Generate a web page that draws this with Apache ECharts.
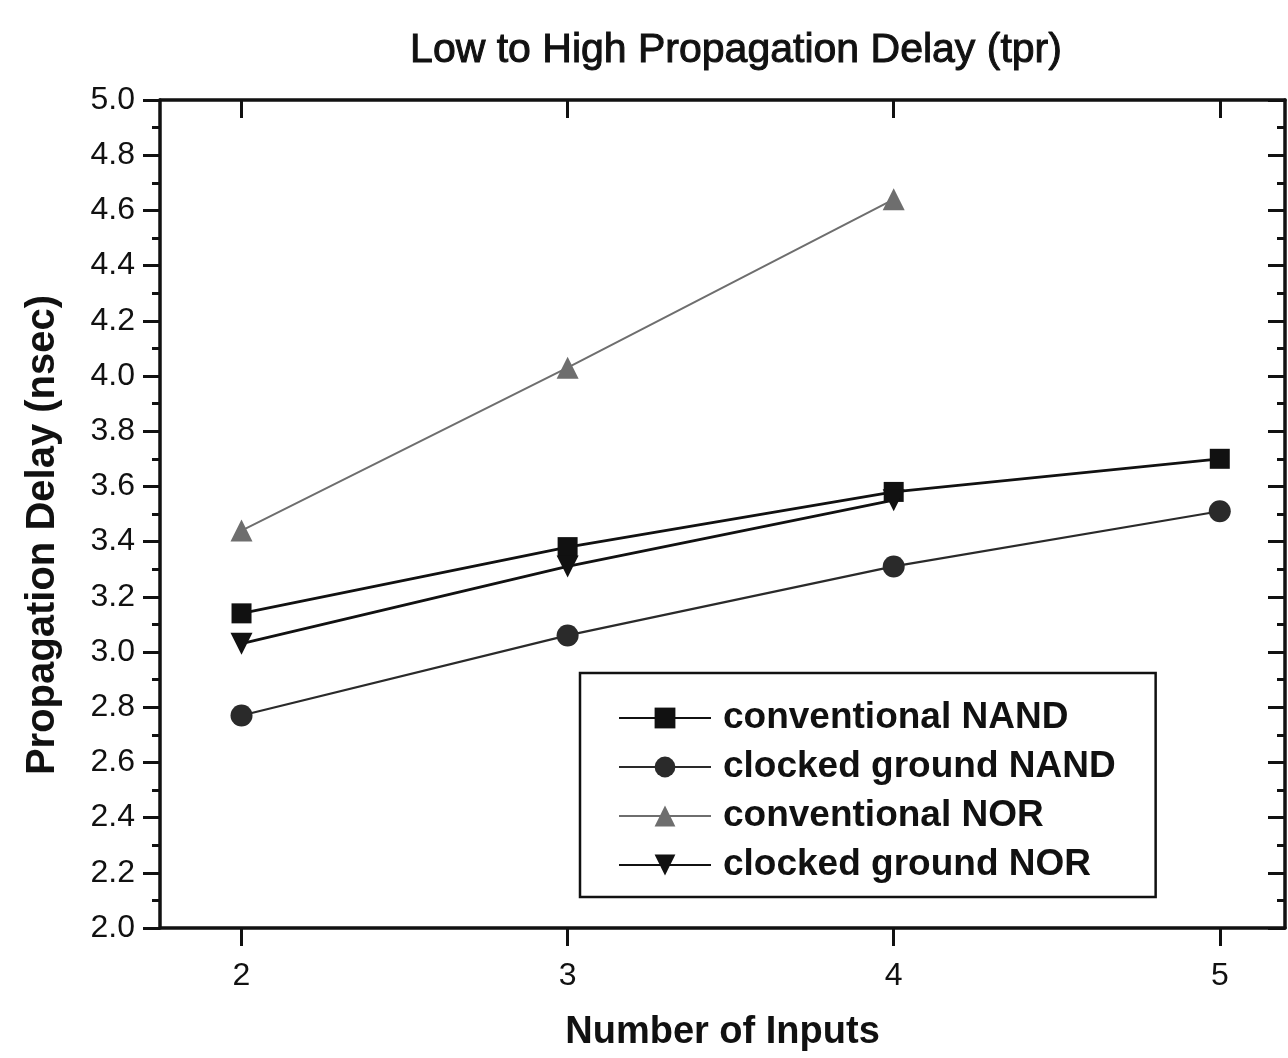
<!DOCTYPE html>
<html>
<head>
<meta charset="utf-8">
<script src="https://cdn.jsdelivr.net/npm/echarts@6/dist/echarts.min.js"></script>
<style>html,body{margin:0;padding:0;background:#fff}#c{width:1288px;height:1058px}</style>
</head>
<body>
<div id="c"></div>
<script>
var inputs = [2, 3, 4, 5];
var convNAND = [3.14, 3.38, 3.58, 3.70];
var clkNAND = [2.77, 3.06, 3.31, 3.51];
var convNOR = [3.44, 4.03, 4.64];
var clkNOR = [3.03, 3.31, 3.55];
var seriesNames = ['conventional NAND', 'clocked ground NAND', 'conventional NOR', 'clocked ground NOR'];
var xTicks = [2, 3, 4, 5];
var yName = 'Propagation Delay (nsec)';

function pairs(ys) { return ys.map(function (v, i) { return [inputs[i], v]; }); }

var FONT = '"Liberation Sans", Arial, sans-serif';
var chart = echarts.init(document.getElementById('c'));

function mk(name, data, color, sym, size, lw) {
  return {
    name: name, type: 'line', data: pairs(data),
    symbol: sym, symbolSize: size,
    lineStyle: { color: color, width: lw },
    itemStyle: { color: color },
    animation: false
  };
}

chart.setOption({
  backgroundColor: '#fff',
  animation: false,
  title: {
    text: 'Low to High Propagation Delay (tpr)',
    left: 731, top: 25, textAlign: 'center',
    textStyle: { fontFamily: FONT, fontSize: 41, fontWeight: 'normal', color: '#111', textBorderColor: '#111', textBorderWidth: 1 }
  },
  graphic: [{
    type: 'text', x: 43, y: 535, rotation: Math.PI / 2,
    style: { text: yName, fontFamily: FONT, fontSize: 40, fontWeight: 'bold', fill: '#111', align: 'center', verticalAlign: 'middle' }
  }],
  grid: { left: 160, right: 3, top: 100, bottom: 130 },
  legend: {
    orient: 'vertical', left: 580, top: 673,
    padding: [25, 40, 12, 38],
    borderColor: '#111', borderWidth: 2.5, backgroundColor: '#fff',
    itemWidth: 92, itemHeight: 26, itemGap: 9,
    textStyle: { fontFamily: FONT, fontSize: 37, fontWeight: 'bold', color: '#111', lineHeight: 40, padding: [0, 0, 0, 7] },
    data: seriesNames
  },
  xAxis: [{
    type: 'value', min: 1.75, max: 5.2, position: 'bottom',
    name: 'Number of Inputs', nameLocation: 'middle', nameGap: 86,
    nameTextStyle: { fontFamily: FONT, fontSize: 38, fontWeight: 'bold', color: '#111' },
    axisLine: { lineStyle: { color: '#111', width: 3.5 } },
    axisTick: { customValues: xTicks, inside: false, length: 18, lineStyle: { color: '#111', width: 3 } },
    axisLabel: { customValues: xTicks, margin: 32, fontFamily: FONT, fontSize: 32, color: '#111' },
    splitLine: { show: false }
  }, {
    type: 'value', min: 1.75, max: 5.2, position: 'top',
    axisLine: { lineStyle: { color: '#111', width: 3.5 } },
    axisTick: { customValues: xTicks, inside: true, length: 18, lineStyle: { color: '#111', width: 3 } },
    axisLabel: { show: false },
    splitLine: { show: false }
  }],
  yAxis: [{
    type: 'value', min: 2, max: 5, interval: 0.2, position: 'left',
    axisLine: { show: true, lineStyle: { color: '#111', width: 3.5 } },
    axisTick: { show: true, inside: false, length: 17, lineStyle: { color: '#111', width: 3 } },
    minorTick: { show: true, splitNumber: 2, length: 8, lineStyle: { color: '#111', width: 3 } },
    axisLabel: { margin: 25, fontFamily: FONT, fontSize: 32, color: '#111', formatter: function (v) { return v.toFixed(1); } },
    splitLine: { show: false }
  }, {
    type: 'value', min: 2, max: 5, interval: 0.2, position: 'right',
    axisLine: { show: true, lineStyle: { color: '#111', width: 3.5 } },
    axisTick: { show: true, inside: true, length: 17, lineStyle: { color: '#111', width: 3 } },
    minorTick: { show: true, splitNumber: 2, length: 8, lineStyle: { color: '#111', width: 3 } },
    axisLabel: { show: false },
    splitLine: { show: false }
  }],
  series: [
    mk(seriesNames[0], convNAND, '#111111', 'rect', 20, 2.8),
    mk(seriesNames[1], clkNAND, '#2a2a2a', 'circle', 22, 2.2),
    mk(seriesNames[2], convNOR, '#6e6e6e', 'triangle', 22, 2),
    mk(seriesNames[3], clkNOR, '#111111', 'path://M0,0 L10,0 L5,9 Z', 22, 2.8)
  ]
});
</script>
</body>
</html>
